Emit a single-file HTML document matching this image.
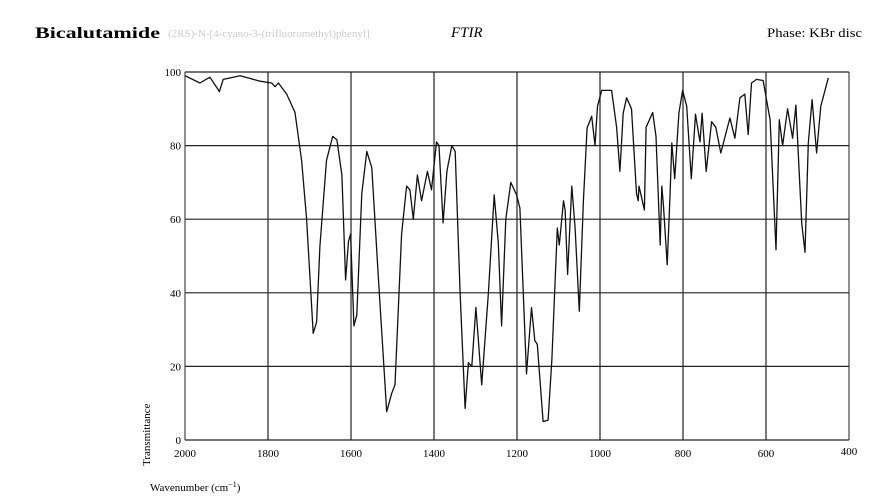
<!DOCTYPE html>
<html><head><meta charset="utf-8">
<style>
body{margin:0;background:#fff;}
svg{display:block;font-family:"Liberation Serif",serif;}
</style></head>
<body>
<svg id="chart" width="886" height="498" viewBox="0 0 886 498">
<text x="35" y="38" font-size="16" font-weight="bold" textLength="125" lengthAdjust="spacingAndGlyphs">Bicalutamide</text>
<text x="168" y="37" font-size="11" fill="#ccc">(2RS)-N-[4-cyano-3-(trifluoromethyl)phenyl]</text>
<text x="451" y="37" font-size="15" font-style="italic">FTIR</text>
<text x="767" y="37" font-size="13" textLength="95" lengthAdjust="spacingAndGlyphs">Phase: KBr disc</text>
<text x="150" y="491" font-size="11">Wavenumber (cm<tspan dy="-4" font-size="8">−1</tspan><tspan dy="4">)</tspan></text>
<text transform="translate(150,466) rotate(-90)" font-size="11">Transmittance</text>
<g id="grid"></g>
<g id="ticks"></g>
<path id="spectrum" fill="none" stroke="#111" stroke-width="1.3" stroke-linejoin="round"/>
</svg>
<script>
const xTicks=[2000,1800,1600,1400,1200,1000,800,600,400];
const yTicks=[0,20,40,60,80,100];
const wavenumbers=[2000,1964,1940,1917,1908,1867,1819,1791,1783,1775,1755,1735,1719,1707,1691,1683,1675,1659,1644,1634,1622,1613,1606,1601,1593,1586,1574,1562,1550,1534,1514,1502,1494,1478,1466,1458,1450,1440,1430,1416,1406,1394,1388,1378,1369,1357,1349,1337,1325,1317,1309,1299,1293,1285,1269,1255,1245,1237,1227,1215,1201,1193,1177,1165,1157,1151,1137,1125,1116,1103,1098,1088,1084,1078,1068,1060,1050,1040,1031,1020,1012,1006,996,972,960,952,944,936,924,912,908,906,893,889,873,865,855,851,847,838,831,827,820,810,801,791,780,770,759,754,744,731,721,709,687,675,663,651,643,635,623,607,590,576,568,560,548,536,528,514,506,498,489,478,468,450];
const transmittance=[99,97,98.6,94.7,98,99,97.5,97,96,97,94,89,76,60,29,32,52.6,76,82.5,81.6,72,43.5,54,56,31,34,67,78.4,74,44,7.7,12.7,15,56,69,68,60,72,65,73,68,81,80,59,73,80,78.4,40,8.6,21,20,36,27,15,40,66.6,53.5,31,60,70,66.6,63,18,36,27,26,5,5.4,22,57.6,53,65,62.5,45,69,57.6,35,65,84.8,88,80,90.7,95,95,85,73,88.8,93,90,67,65,69,62.5,85,89,82.5,53,69,63.5,47.6,67,80.7,71,88.8,95,90.7,71,88.5,81,88.8,73,86.5,85,78,87.5,82,93,94,83,97,98,97.7,87,51.7,87,80,90,82,91,59,51,80.7,92.5,78,90.7,98.4];
const X0=185,X1=849,Y0=440,Y1=72;
function xs(w){return X0+(2000-w)*(X1-X0)/1600;}
function ys(t){return Y0-t*(Y0-Y1)/100;}
const NS="http://www.w3.org/2000/svg";
const grid=document.getElementById('grid'),ticks=document.getElementById('ticks');
function mk(tag,attrs,parent){const e=document.createElementNS(NS,tag);for(const k in attrs)e.setAttribute(k,attrs[k]);parent.appendChild(e);return e;}
xTicks.forEach(w=>{
  const l=mk('line',{x1:xs(w),x2:xs(w),y1:Y1,y2:Y0,stroke:'#222','stroke-width':(w==2000||w==400)?1:1.2},grid);
  
  
  const t=mk('text',{x:xs(w),y:w==400?455:457,'font-size':11,'text-anchor':'middle'},ticks);
  t.textContent=w;
  
  
});
yTicks.forEach(v=>{
  const l=mk('line',{x1:X0,x2:X1,y1:ys(v),y2:ys(v),stroke:'#222','stroke-width':1.2},grid);
  
  
  const t=mk('text',{x:181,y:ys(v)+4,'font-size':11,'text-anchor':'end'},ticks);
  t.textContent=v;
  
  
});
let d='';
wavenumbers.forEach((w,i)=>{d+=(i?'L':'M')+xs(w).toFixed(1)+' '+ys(transmittance[i]).toFixed(1)+' ';});
document.getElementById('spectrum').setAttribute('d',d);
</script>
</body></html>
